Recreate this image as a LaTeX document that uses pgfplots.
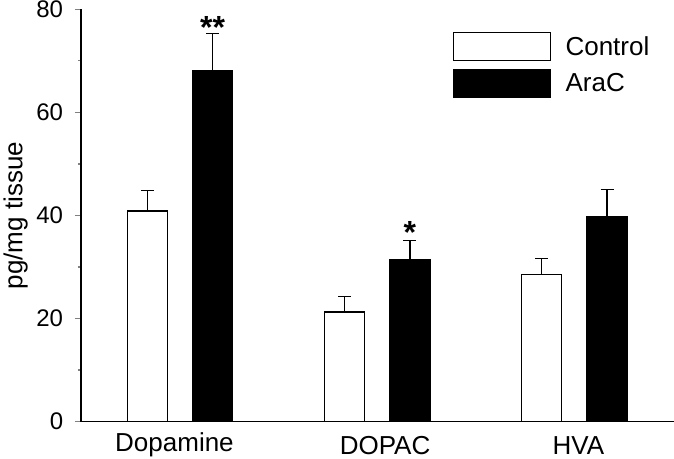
\documentclass[border=0pt]{standalone}
\usepackage{fontspec}
\setmainfont{Liberation Sans}
\usepackage{pgfplots}
\pgfplotsset{compat=1.18}
\begin{document}
\begin{tikzpicture}
\begin{axis}[
  scale only axis,
  width=593pt, height=412.4pt,
  xmin=-0.502, xmax=2.505,
  ymin=0, ymax=80,
  axis x line=bottom, axis y line=left,
  axis line style={-, line width=1.3pt},
  ybar, bar width=40pt,
  xtick={-0.028,1.04,2.02},
  xticklabels={{\raisebox{3.5pt}{Dopamine}},DOPAC,HVA},
  xtick style={draw=none},
  ytick={0,20,40,60,80},
  minor y tick num=1,
  tick align=outside,
  major tick length=6pt, minor tick length=3pt,
  ytick style={line width=1.3pt},
  minor y tick style={line width=1.3pt},
  /pgf/number format/assume math mode=true,
  yticklabel style={font=\fontsize{24}{28}\selectfont, inner sep=0pt, xshift=-11.7pt},
  xticklabel style={font=\fontsize{26}{30}\selectfont, inner sep=0pt, anchor=base, yshift=-27.2pt},
  ylabel={pg/mg tissue},
  ylabel style={font=\fontsize{26}{30}\selectfont},
  ylabel shift=5pt,
  legend style={draw=none, fill=none, at={(rel axis cs:0.6268,0.9457)}, anchor=north west,
    inner sep=0pt, row sep=7.7pt, font=\fontsize{26}{30}\selectfont,
    nodes={inner sep=0pt, anchor=west}},
  legend cell align=left,
  legend image code/.code={\draw[#1, line width=1.3pt] (0pt,-14pt) rectangle (97pt,14pt); \path[draw=none, fill=none] (0pt,0pt) -- (112pt,0pt);},
  error bars/y dir=plus, error bars/y explicit,
  error bars/error bar style={line width=1.3pt, black},
  error bars/error mark options={rotate=90, mark size=6.5pt, line width=1.3pt, black},
]
\addplot[bar shift=-32.7pt, fill=white, draw=black, line width=1.3pt]
  table[x=x, y=y, y error=e] {
x y e
0 40.9 3.9
1 21.3 2.95
2 28.6 3.0
};
\addplot[bar shift=32.7pt, fill=black, draw=black, line width=1.3pt]
  table[x=x, y=y, y error=e] {
x y e
0 68.1 7.2
1 31.5 3.6
2 39.8 5.3
};
\legend{Control, AraC}
\node[font=\fontsize{32}{36}\selectfont\bfseries, anchor=base, inner sep=0pt, yshift=-5pt] at ([xshift=32.7pt]axis cs:0,75.3) {**};
\node[font=\fontsize{32}{36}\selectfont\bfseries, anchor=base, inner sep=0pt, yshift=-5pt] at ([xshift=32.7pt]axis cs:1,35.6) {*};
\coordinate (bl) at (rel axis cs:0,0);
\coordinate (tr) at (rel axis cs:1,1);
\end{axis}
\pgfresetboundingbox
\path ([shift={(-81pt,-37.3pt)}]bl) rectangle ([shift={(0pt,9.3pt)}]tr);
\end{tikzpicture}
\end{document}
